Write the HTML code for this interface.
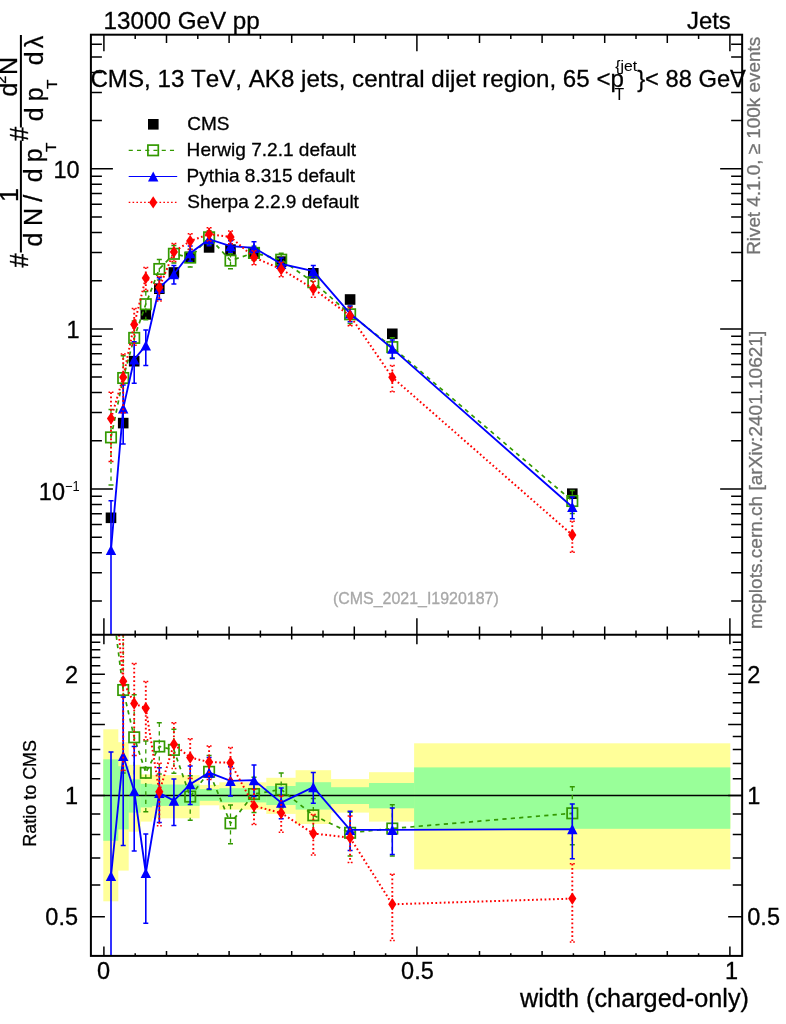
<!DOCTYPE html>
<html lang="en"><head><meta charset="utf-8"><title>width (charged-only) - CMS_2021_I1920187</title>
<style>html,body{margin:0;padding:0;background:#fff}svg{display:block}text{font-family:"Liberation Sans", "DejaVu Sans", sans-serif;stroke-width:.3px;font-kerning:none;font-feature-settings:"kern" 0,"liga" 0}</style></head><body>
<svg width="786" height="1024" viewBox="0 0 786 1024">
<rect width="786" height="1024" fill="#fff"/>
<defs><clipPath id="cm"><rect x="90.9" y="34.7" width="651.25" height="600.1"/></clipPath>
<clipPath id="cr"><rect x="90.9" y="634.8" width="651.25" height="321.1"/></clipPath></defs>
<g clip-path="url(#cr)">
<rect x="103.3" y="729.3" width="15" height="172" fill="#ffff99"/>
<rect x="118" y="742.2" width="10.7" height="128.4" fill="#ffff99"/>
<rect x="128.4" y="764.8" width="12.3" height="66.9" fill="#ffff99"/>
<rect x="140.4" y="774.4" width="11.8" height="47.2" fill="#ffff99"/>
<rect x="151.9" y="775.1" width="47.7" height="43.2" fill="#ffff99"/>
<rect x="199.3" y="784.9" width="20.3" height="20.4" fill="#ffff99"/>
<rect x="219.3" y="782.3" width="47.3" height="27.3" fill="#ffff99"/>
<rect x="266.3" y="777.8" width="29.6" height="36.1" fill="#ffff99"/>
<rect x="295.6" y="770.2" width="35.5" height="53.8" fill="#ffff99"/>
<rect x="330.8" y="779.1" width="38.5" height="33.5" fill="#ffff99"/>
<rect x="369" y="772.2" width="45.4" height="49.4" fill="#ffff99"/>
<rect x="414.1" y="743.3" width="316.2" height="126.1" fill="#ffff99"/>
<rect x="103.3" y="759.3" width="15" height="81.5" fill="#99ff99"/>
<rect x="118" y="766.2" width="10.7" height="63.2" fill="#99ff99"/>
<rect x="128.4" y="779.4" width="12.3" height="33.2" fill="#99ff99"/>
<rect x="140.4" y="783.8" width="11.8" height="23.6" fill="#99ff99"/>
<rect x="151.9" y="784.5" width="47.7" height="21.4" fill="#99ff99"/>
<rect x="199.3" y="789.1" width="20.3" height="11.7" fill="#99ff99"/>
<rect x="219.3" y="788.2" width="47.3" height="14.2" fill="#99ff99"/>
<rect x="266.3" y="786" width="29.6" height="19" fill="#99ff99"/>
<rect x="295.6" y="782.2" width="35.5" height="27.4" fill="#99ff99"/>
<rect x="330.8" y="787.2" width="38.5" height="16.8" fill="#99ff99"/>
<rect x="369" y="783" width="45.4" height="25.3" fill="#99ff99"/>
<rect x="414.1" y="767.4" width="316.2" height="61.4" fill="#99ff99"/>
<path d="M90.9 795.5H742.15" stroke="#000" stroke-width="1.6"/>
<polyline points="111,594 123.2,690 134.2,737.3 145.8,772.8 159.3,746.5 173.9,749.9 190.2,796.6 209.1,771.8 230.5,823.3 254,794 281.2,789.5 313.3,815.3 350.1,832.8 392.3,828.5 572.3,813.3" fill="none" stroke="#339900" stroke-width="1.7" stroke-dasharray="4.2 4.2"/>
<path d="M123.2 633.88V773.1M134.2 694.64V793.83M145.8 740.89V811.85M159.3 722.8V773.92M173.9 729.29V773.27M190.2 775.83V820.17M209.1 755.44V789.85M230.5 805.03V843.7M254 777.32V812.44M281.2 772.98V807.75M313.3 798.62V833.74M350.1 812.34V855.97M392.3 804.8V855.92M572.3 786.72V844.65" fill="none" stroke="#339900" stroke-width="1.3" stroke-dasharray="4.2 4.2"/>
<path d="M120.7 633.88h5M120.7 773.1h5M131.7 694.64h5M131.7 793.83h5M143.3 740.89h5M143.3 811.85h5M156.8 722.8h5M156.8 773.92h5M171.4 729.29h5M171.4 773.27h5M187.7 775.83h5M187.7 820.17h5M206.6 755.44h5M206.6 789.85h5M228 805.03h5M228 843.7h5M251.5 777.32h5M251.5 812.44h5M278.7 772.98h5M278.7 807.75h5M310.8 798.62h5M310.8 833.74h5M347.6 812.34h5M347.6 855.97h5M389.8 804.8h5M389.8 855.92h5M569.8 786.72h5M569.8 844.65h5" fill="none" stroke="#339900" stroke-width="1.5"/>
<rect x="105.8" y="588.8" width="10.4" height="10.4" fill="none" stroke="#339900" stroke-width="1.7"/>
<rect x="118" y="684.8" width="10.4" height="10.4" fill="none" stroke="#339900" stroke-width="1.7"/>
<rect x="129" y="732.1" width="10.4" height="10.4" fill="none" stroke="#339900" stroke-width="1.7"/>
<rect x="140.6" y="767.6" width="10.4" height="10.4" fill="none" stroke="#339900" stroke-width="1.7"/>
<rect x="154.1" y="741.3" width="10.4" height="10.4" fill="none" stroke="#339900" stroke-width="1.7"/>
<rect x="168.7" y="744.7" width="10.4" height="10.4" fill="none" stroke="#339900" stroke-width="1.7"/>
<rect x="185" y="791.4" width="10.4" height="10.4" fill="none" stroke="#339900" stroke-width="1.7"/>
<rect x="203.9" y="766.6" width="10.4" height="10.4" fill="none" stroke="#339900" stroke-width="1.7"/>
<rect x="225.3" y="818.1" width="10.4" height="10.4" fill="none" stroke="#339900" stroke-width="1.7"/>
<rect x="248.8" y="788.8" width="10.4" height="10.4" fill="none" stroke="#339900" stroke-width="1.7"/>
<rect x="276" y="784.3" width="10.4" height="10.4" fill="none" stroke="#339900" stroke-width="1.7"/>
<rect x="308.1" y="810.1" width="10.4" height="10.4" fill="none" stroke="#339900" stroke-width="1.7"/>
<rect x="344.9" y="827.6" width="10.4" height="10.4" fill="none" stroke="#339900" stroke-width="1.7"/>
<rect x="387.1" y="823.3" width="10.4" height="10.4" fill="none" stroke="#339900" stroke-width="1.7"/>
<rect x="567.1" y="808.1" width="10.4" height="10.4" fill="none" stroke="#339900" stroke-width="1.7"/>
<polyline points="111,876 123.2,756 134.2,791 145.8,873 159.3,793 173.9,800.6 190.2,784.2 209.1,772.6 230.5,780.8 254,780.1 281.2,802.7 313.3,787.2 350.1,829.8 392.3,829.8 572.3,829.2" fill="none" stroke="#0000ff" stroke-width="1.85"/>
<path d="M111 752.08V5000M123.2 697.11V845.41M134.2 746.43V850.94M145.8 833.95V923.35M159.3 767.78V822.48M173.9 778.9V825.38M190.2 766.09V804.4M209.1 757.52V789.11M230.5 766.84V795.97M254 765.02V796.61M281.2 788.1V818.63M313.3 772.6V803.13M350.1 811.22V850.59M392.3 808.1V854.58M572.3 803.98V858.68" fill="none" stroke="#0000ff" stroke-width="1.6"/>
<path d="M108.5 752.08h5M108.5 5000h5M120.7 697.11h5M120.7 845.41h5M131.7 746.43h5M131.7 850.94h5M143.3 833.95h5M143.3 923.35h5M156.8 767.78h5M156.8 822.48h5M171.4 778.9h5M171.4 825.38h5M187.7 766.09h5M187.7 804.4h5M206.6 757.52h5M206.6 789.11h5M228 766.84h5M228 795.97h5M251.5 765.02h5M251.5 796.61h5M278.7 788.1h5M278.7 818.63h5M310.8 772.6h5M310.8 803.13h5M347.6 811.22h5M347.6 850.59h5M389.8 808.1h5M389.8 854.58h5M569.8 803.98h5M569.8 858.68h5" fill="none" stroke="#0000ff" stroke-width="1.5"/>
<path d="M111 870.9l5.2 10.2h-10.4z" fill="#0000ff"/>
<path d="M123.2 750.9l5.2 10.2h-10.4z" fill="#0000ff"/>
<path d="M134.2 785.9l5.2 10.2h-10.4z" fill="#0000ff"/>
<path d="M145.8 867.9l5.2 10.2h-10.4z" fill="#0000ff"/>
<path d="M159.3 787.9l5.2 10.2h-10.4z" fill="#0000ff"/>
<path d="M173.9 795.5l5.2 10.2h-10.4z" fill="#0000ff"/>
<path d="M190.2 779.1l5.2 10.2h-10.4z" fill="#0000ff"/>
<path d="M209.1 767.5l5.2 10.2h-10.4z" fill="#0000ff"/>
<path d="M230.5 775.7l5.2 10.2h-10.4z" fill="#0000ff"/>
<path d="M254 775l5.2 10.2h-10.4z" fill="#0000ff"/>
<path d="M281.2 797.6l5.2 10.2h-10.4z" fill="#0000ff"/>
<path d="M313.3 782.1l5.2 10.2h-10.4z" fill="#0000ff"/>
<path d="M350.1 824.7l5.2 10.2h-10.4z" fill="#0000ff"/>
<path d="M392.3 824.7l5.2 10.2h-10.4z" fill="#0000ff"/>
<path d="M572.3 824.1l5.2 10.2h-10.4z" fill="#0000ff"/>
<polyline points="111,547 123.2,681.2 134.2,703.5 145.8,708.3 159.3,791.7 173.9,744.2 190.2,757.6 209.1,762 230.5,762.8 254,805.9 281.2,813 313.3,833.5 350.1,837.7 392.3,904.3 572.3,898.6" fill="none" stroke="#ff0000" stroke-width="2" stroke-dasharray="1.7 2.5"/>
<path d="M123.2 622.31V770.61M134.2 663.47V755.49M145.8 681.57V739.86M159.3 763.18V825.79M173.9 722.81V768.57M190.2 738.86V778.59M209.1 746V779.61M230.5 747.56V779.5M254 789.06V824.53M281.2 795.68V832.22M313.3 814.45V854.88M350.1 816V862.48M392.3 874.3V940.53M572.3 863.8V942.09" fill="none" stroke="#ff0000" stroke-width="1.9" stroke-dasharray="1.7 2.5"/>
<path d="M120.7 622.31h5M120.7 770.61h5M131.7 663.47h5M131.7 755.49h5M143.3 681.57h5M143.3 739.86h5M156.8 763.18h5M156.8 825.79h5M171.4 722.81h5M171.4 768.57h5M187.7 738.86h5M187.7 778.59h5M206.6 746h5M206.6 779.61h5M228 747.56h5M228 779.5h5M251.5 789.06h5M251.5 824.53h5M278.7 795.68h5M278.7 832.22h5M310.8 814.45h5M310.8 854.88h5M347.6 816h5M347.6 862.48h5M389.8 874.3h5M389.8 940.53h5M569.8 863.8h5M569.8 942.09h5" fill="none" stroke="#ff0000" stroke-width="1.5" stroke-dasharray="1.6 1.8"/>
<path d="M111 540.8l4.1 6.2l-4.1 6.2l-4.1 -6.2z" fill="#ff0000"/>
<path d="M123.2 675l4.1 6.2l-4.1 6.2l-4.1 -6.2z" fill="#ff0000"/>
<path d="M134.2 697.3l4.1 6.2l-4.1 6.2l-4.1 -6.2z" fill="#ff0000"/>
<path d="M145.8 702.1l4.1 6.2l-4.1 6.2l-4.1 -6.2z" fill="#ff0000"/>
<path d="M159.3 785.5l4.1 6.2l-4.1 6.2l-4.1 -6.2z" fill="#ff0000"/>
<path d="M173.9 738l4.1 6.2l-4.1 6.2l-4.1 -6.2z" fill="#ff0000"/>
<path d="M190.2 751.4l4.1 6.2l-4.1 6.2l-4.1 -6.2z" fill="#ff0000"/>
<path d="M209.1 755.8l4.1 6.2l-4.1 6.2l-4.1 -6.2z" fill="#ff0000"/>
<path d="M230.5 756.6l4.1 6.2l-4.1 6.2l-4.1 -6.2z" fill="#ff0000"/>
<path d="M254 799.7l4.1 6.2l-4.1 6.2l-4.1 -6.2z" fill="#ff0000"/>
<path d="M281.2 806.8l4.1 6.2l-4.1 6.2l-4.1 -6.2z" fill="#ff0000"/>
<path d="M313.3 827.3l4.1 6.2l-4.1 6.2l-4.1 -6.2z" fill="#ff0000"/>
<path d="M350.1 831.5l4.1 6.2l-4.1 6.2l-4.1 -6.2z" fill="#ff0000"/>
<path d="M392.3 898.1l4.1 6.2l-4.1 6.2l-4.1 -6.2z" fill="#ff0000"/>
<path d="M572.3 892.4l4.1 6.2l-4.1 6.2l-4.1 -6.2z" fill="#ff0000"/>
</g>
<g clip-path="url(#cm)">
<rect x="105.7" y="512.5" width="10.6" height="10.6" fill="#000"/>
<rect x="117.9" y="417.8" width="10.6" height="10.6" fill="#000"/>
<rect x="128.9" y="355.9" width="10.6" height="10.6" fill="#000"/>
<rect x="140.5" y="309.1" width="10.6" height="10.6" fill="#000"/>
<rect x="154" y="283.4" width="10.6" height="10.6" fill="#000"/>
<rect x="168.6" y="267.2" width="10.6" height="10.6" fill="#000"/>
<rect x="184.9" y="251.7" width="10.6" height="10.6" fill="#000"/>
<rect x="203.8" y="242.1" width="10.6" height="10.6" fill="#000"/>
<rect x="225.2" y="244.3" width="10.6" height="10.6" fill="#000"/>
<rect x="248.7" y="247.9" width="10.6" height="10.6" fill="#000"/>
<rect x="275.9" y="256.3" width="10.6" height="10.6" fill="#000"/>
<rect x="308" y="268" width="10.6" height="10.6" fill="#000"/>
<rect x="344.8" y="294.2" width="10.6" height="10.6" fill="#000"/>
<rect x="387" y="328.5" width="10.6" height="10.6" fill="#000"/>
<rect x="567" y="488.4" width="10.6" height="10.6" fill="#000"/>
<polyline points="111,437.4 123.2,378 134.2,337.9 145.8,304.2 159.3,269 173.9,253.8 190.2,257.6 209.1,237.3 230.5,260.6 254,252.9 281.2,259.7 313.3,282.2 350.1,314.3 392.3,347.1 572.3,501" fill="none" stroke="#339900" stroke-width="1.7" stroke-dasharray="4.2 4.2"/>
<path d="M111 409.39V485.04M123.2 355.71V411.01M134.2 320.95V360.36M145.8 291.52V319.72M159.3 259.59V279.89M173.9 245.61V263.08M190.2 249.35V266.96M209.1 230.8V244.47M230.5 253.34V268.7M254 246.27V260.23M281.2 253.14V266.95M313.3 275.57V289.53M350.1 306.17V323.51M392.3 337.69V357.99M572.3 490.44V513.45" fill="none" stroke="#339900" stroke-width="1.3" stroke-dasharray="4.2 4.2"/>
<path d="M108.5 409.39h5M108.5 485.04h5M120.7 355.71h5M120.7 411.01h5M131.7 320.95h5M131.7 360.36h5M143.3 291.52h5M143.3 319.72h5M156.8 259.59h5M156.8 279.89h5M171.4 245.61h5M171.4 263.08h5M187.7 249.35h5M187.7 266.96h5M206.6 230.8h5M206.6 244.47h5M228 253.34h5M228 268.7h5M251.5 246.27h5M251.5 260.23h5M278.7 253.14h5M278.7 266.95h5M310.8 275.57h5M310.8 289.53h5M347.6 306.17h5M347.6 323.51h5M389.8 337.69h5M389.8 357.99h5M569.8 490.44h5M569.8 513.45h5" fill="none" stroke="#339900" stroke-width="1.5"/>
<rect x="105.8" y="432.2" width="10.4" height="10.4" fill="none" stroke="#339900" stroke-width="1.7"/>
<rect x="118" y="372.8" width="10.4" height="10.4" fill="none" stroke="#339900" stroke-width="1.7"/>
<rect x="129" y="332.7" width="10.4" height="10.4" fill="none" stroke="#339900" stroke-width="1.7"/>
<rect x="140.6" y="299" width="10.4" height="10.4" fill="none" stroke="#339900" stroke-width="1.7"/>
<rect x="154.1" y="263.8" width="10.4" height="10.4" fill="none" stroke="#339900" stroke-width="1.7"/>
<rect x="168.7" y="248.6" width="10.4" height="10.4" fill="none" stroke="#339900" stroke-width="1.7"/>
<rect x="185" y="252.4" width="10.4" height="10.4" fill="none" stroke="#339900" stroke-width="1.7"/>
<rect x="203.9" y="232.1" width="10.4" height="10.4" fill="none" stroke="#339900" stroke-width="1.7"/>
<rect x="225.3" y="255.4" width="10.4" height="10.4" fill="none" stroke="#339900" stroke-width="1.7"/>
<rect x="248.8" y="247.7" width="10.4" height="10.4" fill="none" stroke="#339900" stroke-width="1.7"/>
<rect x="276" y="254.5" width="10.4" height="10.4" fill="none" stroke="#339900" stroke-width="1.7"/>
<rect x="308.1" y="277" width="10.4" height="10.4" fill="none" stroke="#339900" stroke-width="1.7"/>
<rect x="344.9" y="309.1" width="10.4" height="10.4" fill="none" stroke="#339900" stroke-width="1.7"/>
<rect x="387.1" y="341.9" width="10.4" height="10.4" fill="none" stroke="#339900" stroke-width="1.7"/>
<rect x="567.1" y="495.8" width="10.4" height="10.4" fill="none" stroke="#339900" stroke-width="1.7"/>
<polyline points="111,550 123.2,408.4 134.2,359.5 145.8,345.5 159.3,287.8 173.9,274.2 190.2,253.2 209.1,239.2 230.5,246.2 254,247.8 281.2,263.9 313.3,271.2 350.1,313.5 392.3,348.6 572.3,507" fill="none" stroke="#0000ff" stroke-width="1.85"/>
<path d="M111 500.77V5000M123.2 385V443.92M134.2 341.79V383.31M145.8 329.98V365.5M159.3 277.78V299.51M173.9 265.58V284.04M190.2 246.01V261.22M209.1 233.21V245.76M230.5 240.66V252.22M254 241.81V254.36M281.2 258.1V270.23M313.3 265.4V277.53M350.1 306.12V321.76M392.3 339.98V358.44M572.3 496.98V518.71" fill="none" stroke="#0000ff" stroke-width="1.6"/>
<path d="M108.5 500.77h5M108.5 5000h5M120.7 385h5M120.7 443.92h5M131.7 341.79h5M131.7 383.31h5M143.3 329.98h5M143.3 365.5h5M156.8 277.78h5M156.8 299.51h5M171.4 265.58h5M171.4 284.04h5M187.7 246.01h5M187.7 261.22h5M206.6 233.21h5M206.6 245.76h5M228 240.66h5M228 252.22h5M251.5 241.81h5M251.5 254.36h5M278.7 258.1h5M278.7 270.23h5M310.8 265.4h5M310.8 277.53h5M347.6 306.12h5M347.6 321.76h5M389.8 339.98h5M389.8 358.44h5M569.8 496.98h5M569.8 518.71h5" fill="none" stroke="#0000ff" stroke-width="1.5"/>
<path d="M111 544.9l5.2 10.2h-10.4z" fill="#0000ff"/>
<path d="M123.2 403.3l5.2 10.2h-10.4z" fill="#0000ff"/>
<path d="M134.2 354.4l5.2 10.2h-10.4z" fill="#0000ff"/>
<path d="M145.8 340.4l5.2 10.2h-10.4z" fill="#0000ff"/>
<path d="M159.3 282.7l5.2 10.2h-10.4z" fill="#0000ff"/>
<path d="M173.9 269.1l5.2 10.2h-10.4z" fill="#0000ff"/>
<path d="M190.2 248.1l5.2 10.2h-10.4z" fill="#0000ff"/>
<path d="M209.1 234.1l5.2 10.2h-10.4z" fill="#0000ff"/>
<path d="M230.5 241.1l5.2 10.2h-10.4z" fill="#0000ff"/>
<path d="M254 242.7l5.2 10.2h-10.4z" fill="#0000ff"/>
<path d="M281.2 258.8l5.2 10.2h-10.4z" fill="#0000ff"/>
<path d="M313.3 266.1l5.2 10.2h-10.4z" fill="#0000ff"/>
<path d="M350.1 308.4l5.2 10.2h-10.4z" fill="#0000ff"/>
<path d="M392.3 343.5l5.2 10.2h-10.4z" fill="#0000ff"/>
<path d="M572.3 501.9l5.2 10.2h-10.4z" fill="#0000ff"/>
<polyline points="111,418.6 123.2,377.3 134.2,324.5 145.8,278 159.3,287.5 173.9,251.9 190.2,241.1 209.1,234.1 230.5,237 254,257.4 281.2,269.2 313.3,288.7 350.1,315.8 392.3,377.3 572.3,535" fill="none" stroke="#ff0000" stroke-width="2" stroke-dasharray="1.7 2.5"/>
<path d="M111 392.29V461.44M123.2 353.9V412.82M134.2 308.6V345.15M145.8 267.38V290.54M159.3 276.17V301.04M173.9 243.4V261.58M190.2 233.66V249.44M209.1 227.75V241.09M230.5 230.94V243.63M254 250.71V264.8M281.2 262.32V276.84M313.3 281.13V297.19M350.1 307.18V325.64M392.3 365.38V391.69M572.3 521.17V552.28" fill="none" stroke="#ff0000" stroke-width="1.9" stroke-dasharray="1.7 2.5"/>
<path d="M108.5 392.29h5M108.5 461.44h5M120.7 353.9h5M120.7 412.82h5M131.7 308.6h5M131.7 345.15h5M143.3 267.38h5M143.3 290.54h5M156.8 276.17h5M156.8 301.04h5M171.4 243.4h5M171.4 261.58h5M187.7 233.66h5M187.7 249.44h5M206.6 227.75h5M206.6 241.09h5M228 230.94h5M228 243.63h5M251.5 250.71h5M251.5 264.8h5M278.7 262.32h5M278.7 276.84h5M310.8 281.13h5M310.8 297.19h5M347.6 307.18h5M347.6 325.64h5M389.8 365.38h5M389.8 391.69h5M569.8 521.17h5M569.8 552.28h5" fill="none" stroke="#ff0000" stroke-width="1.5" stroke-dasharray="1.6 1.8"/>
<path d="M111 412.4l4.1 6.2l-4.1 6.2l-4.1 -6.2z" fill="#ff0000"/>
<path d="M123.2 371.1l4.1 6.2l-4.1 6.2l-4.1 -6.2z" fill="#ff0000"/>
<path d="M134.2 318.3l4.1 6.2l-4.1 6.2l-4.1 -6.2z" fill="#ff0000"/>
<path d="M145.8 271.8l4.1 6.2l-4.1 6.2l-4.1 -6.2z" fill="#ff0000"/>
<path d="M159.3 281.3l4.1 6.2l-4.1 6.2l-4.1 -6.2z" fill="#ff0000"/>
<path d="M173.9 245.7l4.1 6.2l-4.1 6.2l-4.1 -6.2z" fill="#ff0000"/>
<path d="M190.2 234.9l4.1 6.2l-4.1 6.2l-4.1 -6.2z" fill="#ff0000"/>
<path d="M209.1 227.9l4.1 6.2l-4.1 6.2l-4.1 -6.2z" fill="#ff0000"/>
<path d="M230.5 230.8l4.1 6.2l-4.1 6.2l-4.1 -6.2z" fill="#ff0000"/>
<path d="M254 251.2l4.1 6.2l-4.1 6.2l-4.1 -6.2z" fill="#ff0000"/>
<path d="M281.2 263l4.1 6.2l-4.1 6.2l-4.1 -6.2z" fill="#ff0000"/>
<path d="M313.3 282.5l4.1 6.2l-4.1 6.2l-4.1 -6.2z" fill="#ff0000"/>
<path d="M350.1 309.6l4.1 6.2l-4.1 6.2l-4.1 -6.2z" fill="#ff0000"/>
<path d="M392.3 371.1l4.1 6.2l-4.1 6.2l-4.1 -6.2z" fill="#ff0000"/>
<path d="M572.3 528.8l4.1 6.2l-4.1 6.2l-4.1 -6.2z" fill="#ff0000"/>
</g>
<path d="M103.9 34.7v16.5M103.9 618.3v26M103.9 955.9v-9.5M135.2 34.7v4.3M135.2 630.5v6.9M135.2 955.9v-2.6M166.5 34.7v8.3M166.5 626.5v13.1M166.5 955.9v-4.8M197.8 34.7v4.3M197.8 630.5v6.9M197.8 955.9v-2.6M229.1 34.7v8.3M229.1 626.5v13.1M229.1 955.9v-4.8M260.4 34.7v4.3M260.4 630.5v6.9M260.4 955.9v-2.6M291.7 34.7v8.3M291.7 626.5v13.1M291.7 955.9v-4.8M323 34.7v4.3M323 630.5v6.9M323 955.9v-2.6M354.3 34.7v8.3M354.3 626.5v13.1M354.3 955.9v-4.8M385.6 34.7v4.3M385.6 630.5v6.9M385.6 955.9v-2.6M416.9 34.7v16.5M416.9 618.3v26M416.9 955.9v-9.5M448.2 34.7v4.3M448.2 630.5v6.9M448.2 955.9v-2.6M479.5 34.7v8.3M479.5 626.5v13.1M479.5 955.9v-4.8M510.8 34.7v4.3M510.8 630.5v6.9M510.8 955.9v-2.6M542.1 34.7v8.3M542.1 626.5v13.1M542.1 955.9v-4.8M573.4 34.7v4.3M573.4 630.5v6.9M573.4 955.9v-2.6M604.7 34.7v8.3M604.7 626.5v13.1M604.7 955.9v-4.8M636 34.7v4.3M636 630.5v6.9M636 955.9v-2.6M667.3 34.7v8.3M667.3 626.5v13.1M667.3 955.9v-4.8M698.6 34.7v4.3M698.6 630.5v6.9M698.6 955.9v-2.6M729.9 34.7v16.5M729.9 618.3v26M729.9 955.9v-9.5M90.9 600.91h11M742.15 600.91h-11M90.9 572.71h11M742.15 572.71h-11M90.9 552.71h11M742.15 552.71h-11M90.9 537.19h11M742.15 537.19h-11M90.9 524.52h11M742.15 524.52h-11M90.9 513.8h11M742.15 513.8h-11M90.9 504.52h11M742.15 504.52h-11M90.9 496.33h11M742.15 496.33h-11M90.9 489h22M742.15 489h-22M90.9 440.81h11M742.15 440.81h-11M90.9 412.61h11M742.15 412.61h-11M90.9 392.61h11M742.15 392.61h-11M90.9 377.09h11M742.15 377.09h-11M90.9 364.42h11M742.15 364.42h-11M90.9 353.7h11M742.15 353.7h-11M90.9 344.42h11M742.15 344.42h-11M90.9 336.23h11M742.15 336.23h-11M90.9 328.9h22M742.15 328.9h-22M90.9 280.71h11M742.15 280.71h-11M90.9 252.51h11M742.15 252.51h-11M90.9 232.51h11M742.15 232.51h-11M90.9 216.99h11M742.15 216.99h-11M90.9 204.32h11M742.15 204.32h-11M90.9 193.6h11M742.15 193.6h-11M90.9 184.32h11M742.15 184.32h-11M90.9 176.13h11M742.15 176.13h-11M90.9 168.8h22M742.15 168.8h-22M90.9 120.61h11M742.15 120.61h-11M90.9 92.41h11M742.15 92.41h-11M90.9 72.41h11M742.15 72.41h-11M90.9 56.89h11M742.15 56.89h-11M90.9 44.22h11M742.15 44.22h-11M90.9 916.82h14M742.15 916.82h-14M90.9 884.91h9.4M742.15 884.91h-9.4M90.9 857.93h9.4M742.15 857.93h-9.4M90.9 834.55h9.4M742.15 834.55h-9.4M90.9 813.94h9.4M742.15 813.94h-9.4M90.9 795.5h14M742.15 795.5h-14M90.9 778.82h9.4M742.15 778.82h-9.4M90.9 763.59h9.4M742.15 763.59h-9.4M90.9 749.58h9.4M742.15 749.58h-9.4M90.9 736.61h9.4M742.15 736.61h-9.4M90.9 724.54h14M742.15 724.54h-14M90.9 713.24h9.4M742.15 713.24h-9.4M90.9 702.63h9.4M742.15 702.63h-9.4M90.9 692.63h9.4M742.15 692.63h-9.4M90.9 683.16h9.4M742.15 683.16h-9.4M90.9 674.18h14M742.15 674.18h-14M90.9 665.65h9.4M742.15 665.65h-9.4M90.9 657.5h9.4M742.15 657.5h-9.4M90.9 649.72h9.4M742.15 649.72h-9.4M90.9 642.27h9.4M742.15 642.27h-9.4" fill="none" stroke="#000" stroke-width="1.5"/>
<rect x="90.9" y="34.7" width="651.25" height="921.2" fill="none" stroke="#000" stroke-width="2"/>
<path d="M90.9 634.8H742.15" stroke="#000" stroke-width="2"/>
<text x="103.58" y="28.6" font-size="24.6" text-anchor="start" fill="#000" stroke="#000" textLength="156.21" lengthAdjust="spacingAndGlyphs">13000 GeV pp</text>
<text x="686.94" y="28.6" font-size="24.6" text-anchor="start" fill="#000" stroke="#000" textLength="43.9" lengthAdjust="spacingAndGlyphs">Jets</text>
<text x="90.39" y="86.9" font-size="24.5" text-anchor="start" fill="#000" stroke="#000" textLength="533.6" lengthAdjust="spacingAndGlyphs">CMS, 13 TeV, AK8 jets, central dijet region, 65 &lt;p</text>
<text x="614.5" y="99.6" font-size="15.8" text-anchor="start" fill="#000" stroke="#000" style="stroke-width:.1px">T</text>
<text x="615.33" y="70.8" font-size="15.4" text-anchor="start" fill="#000" stroke="#000" textLength="21.8" lengthAdjust="spacingAndGlyphs" style="stroke-width:.1px">{jet</text>
<text x="637.19" y="86.9" font-size="24.5" text-anchor="start" fill="#000" stroke="#000" textLength="108.72" lengthAdjust="spacingAndGlyphs">}&lt; 88 GeV</text>
<path d="M128.7 150.3H177.2" stroke="#339900" stroke-width="1.15" stroke-dasharray="4.1 4.15"/>
<path d="M128.7 176.5H177.2" stroke="#0000ff" stroke-width="1.15"/>
<path d="M128.7 202.4H177.2" stroke="#ff0000" stroke-width="1.15" stroke-dasharray="1.6 2.25"/>
<rect x="148" y="119" width="10.6" height="10.6" fill="#000"/>
<rect x="147.9" y="145.1" width="10.4" height="10.4" fill="none" stroke="#339900" stroke-width="1.7"/>
<path d="M153.2 171.4l5.2 10.2h-10.4z" fill="#0000ff"/>
<path d="M153.2 196.2l4.1 6.2l-4.1 6.2l-4.1 -6.2z" fill="#ff0000"/>
<text x="187.25" y="129.9" font-size="18.5" text-anchor="start" fill="#000" stroke="#000" textLength="42.33" lengthAdjust="spacingAndGlyphs">CMS</text>
<text x="186.63" y="155.9" font-size="18.5" text-anchor="start" fill="#000" stroke="#000" textLength="169.44" lengthAdjust="spacingAndGlyphs">Herwig 7.2.1 default</text>
<text x="186.63" y="182.1" font-size="18.5" text-anchor="start" fill="#000" stroke="#000" textLength="168.41" lengthAdjust="spacingAndGlyphs">Pythia 8.315 default</text>
<text x="187.34" y="208" font-size="18.5" text-anchor="start" fill="#000" stroke="#000" textLength="171.59" lengthAdjust="spacingAndGlyphs">Sherpa 2.2.9 default</text>
<text x="333" y="604.2" font-size="15.94" text-anchor="start" fill="#a8a8a8" stroke="#a8a8a8">(CMS_2021_I1920187)</text>
<text x="79.6" y="177.5" font-size="23.5" text-anchor="end" fill="#000" stroke="#000">10</text>
<text x="79.6" y="337.6" font-size="23.5" text-anchor="end" fill="#000" stroke="#000">1</text>
<text x="65" y="499.6" font-size="23.5" text-anchor="end" fill="#000" stroke="#000">10</text>
<text x="65" y="490.9" font-size="14.2" text-anchor="start" fill="#000" stroke="#000" textLength="14.6" lengthAdjust="spacingAndGlyphs" style="stroke-width:0">−1</text>
<text x="78" y="682.78" font-size="23.5" text-anchor="end" fill="#000" stroke="#000">2</text>
<text x="747.3" y="682.78" font-size="23.5" text-anchor="start" fill="#000" stroke="#000">2</text>
<text x="78" y="804.1" font-size="23.5" text-anchor="end" fill="#000" stroke="#000">1</text>
<text x="747.3" y="804.1" font-size="23.5" text-anchor="start" fill="#000" stroke="#000">1</text>
<text x="78" y="925.42" font-size="23.5" text-anchor="end" fill="#000" stroke="#000">0.5</text>
<text x="747.3" y="925.42" font-size="23.5" text-anchor="start" fill="#000" stroke="#000">0.5</text>
<text x="103.5" y="978.5" font-size="23.5" text-anchor="middle" fill="#000" stroke="#000">0</text>
<text x="417.4" y="978.5" font-size="23.5" text-anchor="middle" fill="#000" stroke="#000">0.5</text>
<text x="731.6" y="978.5" font-size="23.5" text-anchor="middle" fill="#000" stroke="#000">1</text>
<text x="520.06" y="1006.6" font-size="25.27" text-anchor="start" fill="#000" stroke="#000">width (charged-only)</text>
<g transform="rotate(-90)">
<text x="-846.68" y="36.4" font-size="19" text-anchor="start" fill="#000" stroke="#000" textLength="106.68" lengthAdjust="spacingAndGlyphs">Ratio to CMS</text>
<text x="-254.86" y="760" font-size="18.88" text-anchor="start" fill="#737373" stroke="#737373">Rivet 4.1.0, ≥ 100k events</text>
<text x="-629.09" y="762" font-size="19.04" text-anchor="start" fill="#737373" stroke="#737373">mcplots.cern.ch [arXiv:2401.10621]</text>
<text x="-267.4" y="27.6" font-size="25.5" text-anchor="start" fill="#000" stroke="#000">#</text>
<text x="-201.9" y="18" font-size="25" text-anchor="start" fill="#000" stroke="#000">1</text>
<text x="-246.5" y="42.3" font-size="25" text-anchor="start" fill="#000" stroke="#000">d</text>
<text x="-226.1" y="42.3" font-size="25" text-anchor="start" fill="#000" stroke="#000">N</text>
<text x="-201.7" y="42.3" font-size="25" text-anchor="start" fill="#000" stroke="#000">/</text>
<text x="-182.2" y="42.3" font-size="25" text-anchor="start" fill="#000" stroke="#000">d</text>
<text x="-162.2" y="42.3" font-size="25" text-anchor="start" fill="#000" stroke="#000">p</text>
<text x="-151.9" y="55.8" font-size="15.5" text-anchor="start" fill="#000" stroke="#000">T</text>
<text x="-141" y="27.6" font-size="25.5" text-anchor="start" fill="#000" stroke="#000">#</text>
<text x="-96.4" y="17.2" font-size="25" text-anchor="start" fill="#000" stroke="#000">d</text>
<text x="-83.7" y="5.9" font-size="14.5" text-anchor="start" fill="#000" stroke="#000">2</text>
<text x="-75.1" y="17" font-size="25" text-anchor="start" fill="#000" stroke="#000">N</text>
<text x="-121.3" y="43.4" font-size="25" text-anchor="start" fill="#000" stroke="#000">d</text>
<text x="-101.3" y="43.4" font-size="25" text-anchor="start" fill="#000" stroke="#000">p</text>
<text x="-88.9" y="56.9" font-size="15.5" text-anchor="start" fill="#000" stroke="#000">T</text>
<text x="-65.3" y="43.4" font-size="25" text-anchor="start" fill="#000" stroke="#000">d</text>
<text x="-48.2" y="43" font-size="25" text-anchor="start" fill="#000" stroke="#000">λ</text>
<path d="M-252.5 20.9H-140.6M-127.6 20.9H-35" stroke="#000" stroke-width="2"/>
</g>
</svg></body></html>
